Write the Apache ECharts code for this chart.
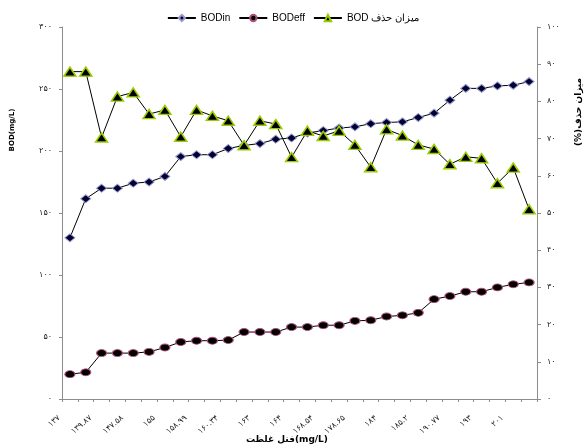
<!DOCTYPE html>
<html><head><meta charset="utf-8">
<script src="https://cdn.jsdelivr.net/npm/echarts@6/dist/echarts.min.js"></script>
<style>html,body{margin:0;padding:0;background:#fff}#c{width:586px;height:448px}</style>
</head><body><div id="c"></div>
<script>
// x categories (every other one readable in the reference; unreadable ones left blank)
const categories = ['۱۳۷','','۱۳۹.۸۷','','۱۴۷.۵۸','','۱۵۵','','۱۵۸.۹۹','','۱۶۰.۳۴','','۱۶۳','','۱۶۴','',
  '۱۶۸.۵۴','','۱۷۸.۶۵','','۱۸۴','','۱۸۵.۲','','۱۹۰.۷۷','','۱۹۳','','۲۰۱',''];
const bodIn = [130,161.5,170,170,174,175,179.5,195.5,197,197,202,204.5,206,209.5,210.5,214.5,
  216.5,218.5,219.5,222,223,223.5,227,230.5,241,250.5,250.5,252.5,253,256];
const bodEff = [20,21.5,37,37,37,38,41.5,46,47,47,47.5,54,54,54,58,58,59.5,59.5,63,63.5,66.5,
  67.5,69.5,80.5,83,86.5,86.5,90,92.5,94];
const removal = [88,88,70.3,81.3,82.4,76.6,77.7,70.5,77.7,76.1,74.8,68.2,74.8,73.9,65,72.1,
  70.7,72.1,68.3,62.3,72.5,70.8,68.3,67.2,63.1,65.1,64.7,58,62.2,51];
const leftTickLabels = ['۰','۵۰','۱۰۰','۱۵۰','۲۰۰','۲۵۰','۳۰۰'];
const rightTickLabels = ['۰','۱۰','۲۰','۳۰','۴۰','۵۰','۶۰','۷۰','۸۰','۹۰','۱۰۰'];
const seriesNames = ['BODin','BODeff','\u202Bمیزان حذف BOD\u202C'];

const FONT = 'DejaVu Sans, Liberation Sans, sans-serif';
const chart = echarts.init(document.getElementById('c'), null, {renderer:'canvas'});
const axisLine = {show:true, lineStyle:{color:'#8c8c8c', width:1}};
chart.setOption({
  animation:false,
  backgroundColor:'#fff',
  legend:{
    top:8, left:'center', itemWidth:28, itemHeight:8, itemGap:8,
    textStyle:{fontFamily:'Liberation Sans, Arial, sans-serif', fontSize:10, color:'#000'},
    data: seriesNames
  },
  grid:{left:62, right:49, top:27, bottom:49, containLabel:false},
  xAxis:{
    type:'category', data:categories, boundaryGap:true,
    axisLine:axisLine,
    axisTick:{show:true, interval:0, length:3, lineStyle:{color:'#8c8c8c'}},
    axisLabel:{interval:1, rotate:40, fontSize:8, color:'#222', fontFamily:FONT, margin:9,
      padding:[0,14,0,0]},
    splitLine:{show:false}
  },
  yAxis:[
    {type:'value', min:0, max:300, interval:50, position:'left',
     axisLine:axisLine,
     axisTick:{show:true, length:3, lineStyle:{color:'#8c8c8c'}},
     axisLabel:{fontSize:8, color:'#222', fontFamily:FONT, margin:10,
       formatter:v => leftTickLabels[Math.round(v/50)]},
     splitLine:{show:false}},
    {type:'value', min:0, max:100, interval:10, position:'right',
     axisLine:axisLine,
     axisTick:{show:true, length:4, lineStyle:{color:'#8c8c8c'}},
     axisLabel:{fontSize:8, color:'#222', fontFamily:FONT, margin:10,
       formatter:v => rightTickLabels[Math.round(v/10)]},
     splitLine:{show:false}}
  ],
  graphic:[
    {type:'text', x:12, y:130, rotation:Math.PI/2,
     style:{text:'BOD(mg/L)', font:'bold 7px '+FONT, fill:'#000', align:'center', verticalAlign:'middle'}},
    {type:'text', x:579, y:112, rotation:Math.PI/2,
     style:{text:'\u202Bمیزان حذف(%)\u202C', font:'bold 9px '+FONT, fill:'#000', align:'center', verticalAlign:'middle'}},
    {type:'text', x:287, y:440,
     style:{text:'غلظت\u200E فنل(mg/L)', font:'bold 9px '+FONT, fill:'#000', align:'center', verticalAlign:'middle'}}
  ],
  series:[
    {name:seriesNames[0], type:'line', data:bodIn, yAxisIndex:0,
     symbol:'diamond', symbolSize:[10,8], showAllSymbol:true,
     lineStyle:{color:'#000', width:1},
     itemStyle:{color:'#000033', borderColor:'#9a9acc', borderWidth:1}},
    {name:seriesNames[1], type:'line', data:bodEff, yAxisIndex:0,
     symbol:'circle', symbolSize:[10,7], showAllSymbol:true,
     lineStyle:{color:'#000', width:1},
     itemStyle:{color:'#000', borderColor:'#b0507a', borderWidth:1}},
    {name:seriesNames[2], type:'line', data:removal, yAxisIndex:1,
     symbol:'triangle', symbolSize:[12,9], showAllSymbol:true,
     lineStyle:{color:'#000', width:1},
     itemStyle:{color:'#000', borderColor:'#99cc00', borderWidth:1.5}}
  ]
});
</script></body></html>
